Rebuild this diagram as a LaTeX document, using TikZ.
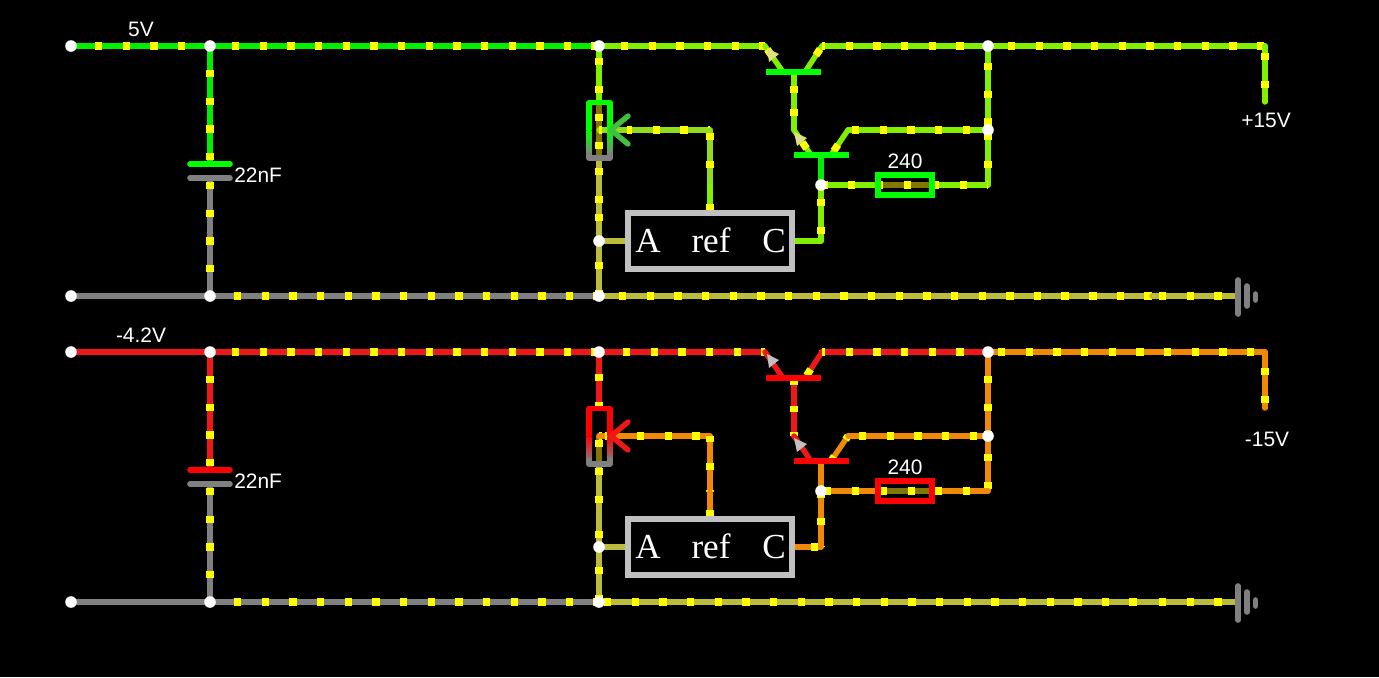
\documentclass[tikz,border=0pt]{standalone}
\usepackage{fontspec}
\setmainfont{Liberation Sans}
\newfontfamily\serifface{Liberation Serif}
\definecolor{wgreen}{HTML}{00EE00}
\definecolor{wlime}{HTML}{80F000}
\definecolor{wsoft}{HTML}{92DC20}
\definecolor{wolive}{HTML}{BCBC3C}
\definecolor{wgrey}{HTML}{808080}
\definecolor{wred}{HTML}{EE1818}
\definecolor{worange}{HTML}{F08808}
\definecolor{wdark}{HTML}{807800}
\definecolor{wdot}{HTML}{FFFF00}
\definecolor{warrow}{HTML}{40C040}
\definecolor{wtipa}{HTML}{E0E080}
\definecolor{wtipb}{HTML}{C0C0C0}
\definecolor{wbox}{HTML}{C0C0C0}
\tikzset{
    wire/.style={draw=#1, line width=3.1pt, line cap=round, line join=round},
    flow/.style={postaction={draw=wdot, line cap=butt, line width=4.2pt,
        dash pattern=on 4.2pt off 11.54pt, dash phase={(31.7-#1)*0.5669pt}}},
    bar/.style={draw=#1, line width=3.1pt},
    plate/.style={draw=#1, line width=3.2pt, line cap=round},
    post/.style={circle, fill=white, inner sep=0pt, minimum size=6.6pt},
    lab/.style={text=white, font=\fontsize{11.9}{14}\selectfont, inner sep=0pt},
    reglab/.style={text=white, font=\serifface\fontsize{20}{22}\selectfont, inner sep=0pt, anchor=base},
    gndbar/.style={draw=wgrey, line width=3.2pt, line cap=round},
}
\begin{document}
\begin{tikzpicture}[x=0.02cm, y=-0.02cm]
    \useasboundingbox (0, 0) rectangle (1379, 677);
    \fill[black] (0, 0) rectangle (1379, 677);

    % points of both rails
    \foreach \p/\dy in {t/0, b/306} {
        \coordinate (\p in) at (71, 46+\dy);
        \coordinate (\p cap) at (210, 46+\dy);
        \coordinate (\p capa) at (210, 164+\dy);
        \coordinate (\p capb) at (210, 178+\dy);
        \coordinate (\p gin) at (71, 296+\dy);
        \coordinate (\p gcap) at (210, 296+\dy);
        \coordinate (\p top) at (599, 46+\dy);
        \coordinate (\p pota) at (599, 101+\dy);
        \coordinate (\p wip) at (599, 130+\dy);
        \coordinate (\p potb) at (599, 158+\dy);
        \coordinate (\p ring) at (599, 213+\dy);
        \coordinate (\p anode) at (599, 241+\dy);
        \coordinate (\p gnod) at (599, 296+\dy);
        \coordinate (\p gmid) at (1152, 296+\dy);
        \coordinate (\p gend) at (1238, 296+\dy);
        \coordinate (\p tip) at (611, 130+\dy);
        \coordinate (\p rfa) at (627, 130+\dy);
        \coordinate (\p rfb) at (710, 130+\dy);
        \coordinate (\p rfc) at (710, 186+\dy);
        \coordinate (\p rfd) at (710, 213+\dy);
        \coordinate (\p boxa) at (627, 241+\dy);
        \coordinate (\p boxc) at (794, 241+\dy);
        \coordinate (\p cath) at (821, 241+\dy);
        \coordinate (\p emit) at (821, 185+\dy);
        \coordinate (\p basb) at (821, 155+\dy);
        \coordinate (\p ra) at (876, 185+\dy);
        \coordinate (\p rb) at (933, 185+\dy);
        \coordinate (\p rc) at (988, 185+\dy);
        \coordinate (\p ea) at (765, 46+\dy);
        \coordinate (\p eb) at (783, 72+\dy);
        \coordinate (\p cb) at (805, 72+\dy);
        \coordinate (\p ca) at (822, 46+\dy);
        \coordinate (\p basa) at (794, 72+\dy);
        \coordinate (\p basm) at (794, 100+\dy);
        \coordinate (\p eo) at (794, 130+\dy);
        \coordinate (\p ei) at (811, 155+\dy);
        \coordinate (\p ci) at (831, 155+\dy);
        \coordinate (\p co) at (848, 130+\dy);
        \coordinate (\p mida) at (988, 46+\dy);
        \coordinate (\p midb) at (988, 130+\dy);
        \coordinate (\p out) at (1265, 46+\dy);
        \coordinate (\p oute) at (1265, 102+\dy);
    }

    % 5V rail
    \draw[wire=wgreen, flow=28] (tin) -- (tcap);
    \draw[wire=wgreen, flow=26] (tcap) -- (ttop);
    \draw[wire=wgreen, flow=28] (tcap) -- (tcapa);
    \draw[wire=wgrey, flow=8] (tcapb) -- (tgcap);
    \draw[wire=wgrey] (tgin) -- (tgcap);
    \draw[wire=wgrey, flow=28] (tgcap) -- (tgnod);
    \draw[wire=wlime, flow=16] (ttop) -- (tpota);
    \draw[wire=wdark, line cap=butt, flow=17] (tpota) -- (tpotb);
    \draw[wire=wolive, flow=14] (tpotb) -- (tring);
    \draw[wire=wolive, flow=5] (tring) -- (tanode);
    \draw[wire=wolive, flow=25] (tanode) -- (tgnod);
    \draw[wire=wolive] (tanode) -- (tboxa);
    \draw[wire=wolive, flow=24] (tgnod) -- (tgmid);
    \draw[wire=wolive, flow=11] (tgmid) -- (tgend);
    \draw[wire=wsoft, flow=0] (twip) -- (ttip);
    \draw[wire=wsoft, flow=2] (ttip) -- (trfa);
    \draw[wire=wsoft, flow=2] (trfa) -- (trfb);
    \draw[wire=wsoft, flow=7] (trfb) -- (trfc);
    \draw[wire=wlime, flow=22] (trfc) -- (trfd);
    \draw[wire=wlime, flow=26] (ttop) -- (tea);
    \draw[wire=wlime, flow=8] (tea) -- (teb);
    \draw[wire=wlime, flow=24] (tcb) -- (tca);
    \draw[wire=wlime, flow=0] (tca) -- (tmida);
    \draw[wire=wlime, flow=24] (tmida) -- (tout);
    \draw[wire=wlime, flow=11] (tout) -- (toute);
    \draw[wire=wlime, flow=18] (tbasa) -- (tbasm);
    \draw[wire=wlime, flow=13] (tbasm) -- (teo);
    \draw[wire=wlime, flow=19] (teo) -- (tei);
    \draw[wire=wlime, flow=9] (tci) -- (tco);
    \draw[wire=wlime, flow=8] (tco) -- (tmidb);
    \draw[wire=wlime, flow=21] (tmida) -- (tmidb);
    \draw[wire=wlime, flow=7] (tmidb) -- (trc);
    \draw[bar=wgreen] (tbasb) -- (temit);
    \draw[wire=wlime, flow=31] (temit) -- (tra);
    \draw[wire=wdark, line cap=butt, flow=4] (tra) -- (trb);
    \draw[wire=wlime, flow=3] (trb) -- (trc);
    \draw[wire=wlime, flow=18] (temit) -- (tcath);
    \draw[wire=wlime] (tcath) -- (tboxc);

    % -4.2V rail
    \draw[wire=wred] (bin) -- (bcap);
    \draw[wire=wred, flow=26] (bcap) -- (btop);
    \draw[wire=wred, flow=28] (bcap) -- (bcapa);
    \draw[wire=wgrey, flow=8] (bcapb) -- (bgcap);
    \draw[wire=wgrey] (bgin) -- (bgcap);
    \draw[wire=wgrey, flow=28] (bgcap) -- (bgnod);
    \draw[wire=wred, flow=26] (btop) -- (bpota);
    \draw[wire=wdark, line cap=butt, flow=8] (bwip) -- (bpotb);
    \draw[wire=wolive, flow=8] (bpotb) -- (bring);
    \draw[wire=wolive, flow=16] (bring) -- (banode);
    \draw[wire=wolive, flow=24] (banode) -- (bgnod);
    \draw[wire=wolive] (banode) -- (bboxa);
    \draw[wire=wolive, flow=9] (bgnod) -- (bgmid);
    \draw[wire=wolive, flow=11] (bgmid) -- (bgend);
    \draw[wire=worange, flow=0] (bwip) -- (btip);
    \draw[wire=worange, flow=10] (bwip) -- (btip);
    \draw[wire=worange] (btip) -- (brfa);
    \draw[wire=worange, flow=14] (brfa) -- (brfb);
    \draw[wire=worange, flow=3] (brfb) -- (brfc);
    \draw[wire=worange, flow=22] (brfc) -- (brfd);
    \draw[wire=wred, flow=28] (btop) -- (bea);
    \draw[wire=wred] (bea) -- (beb);
    \draw[wire=wred, flow=7] (bcb) -- (bca);
    \draw[wire=wred, flow=0] (bca) -- (bmida);
    \draw[wire=worange, flow=14] (bmida) -- (bout);
    \draw[wire=worange, flow=20] (bout) -- (boute);
    \draw[wire=wred, flow=4] (bbasa) -- (bbasm);
    \draw[wire=wred, flow=30] (bbasm) -- (beo);
    \draw[wire=wred] (beo) -- (bei);
    \draw[wire=worange, flow=30] (bci) -- (bco);
    \draw[wire=worange, flow=15] (bco) -- (bmidb);
    \draw[wire=worange, flow=28] (bmida) -- (bmidb);
    \draw[wire=worange, flow=22] (bmidb) -- (brc);
    \draw[wire=worange] (bbasb) -- (bemit);
    \draw[wire=worange, flow=7] (bemit) -- (bra);
    \draw[wire=wdark, line cap=butt, flow=8] (bra) -- (brb);
    \draw[wire=worange, flow=6] (brb) -- (brc);
    \draw[wire=worange, flow=31] (bemit) -- (bcath);
    \draw[wire=worange, flow=7] (bcath) -- (bboxc);

    % parts drawn the same way on both rails
    \foreach \p/\dy/\hot/\fin/\tipc/\volt/\voy/\outv/\outx/\outy in {%
        t/0/green/warrow/wtipa/5V/29/+15V/1266/120,
        b/306/red/wred/wtipb/-4.2V/335/-15V/1267/439} {
        % capacitor
        \draw[plate=\hot] (190, 164+\dy) -- (230, 164+\dy);
        \draw[plate=wgrey] (190, 178+\dy) -- (230, 178+\dy);
        \node[lab, anchor=west] (\p capl) at (234, 175+\dy) {22nF};
        \node[lab] (\p volt) at (141, \voy) {\volt};
        \node[lab] (\p outl) at (\outx, \outy) {\outv};
        % pot
        \draw[\hot, line width=3pt, line join=round] (589, 130+\dy) -- (589, 102.5+\dy) -- (610, 102.5+\dy) -- (610, 130+\dy);
        \shade[top color=\hot, bottom color=wgrey] (586.4, 130+\dy) rectangle (591.6, 156+\dy);
        \shade[top color=\hot, bottom color=wgrey] (607.4, 130+\dy) rectangle (612.6, 156+\dy);
        \draw[wgrey, line width=3pt, line join=round] (589, 152+\dy) -- (589, 158+\dy) -- (610, 158+\dy) -- (610, 152+\dy);
        \draw[wire=\fin] (628, 116+\dy) -- (\p tip) -- (628, 144+\dy);
        % regulator
        \node[draw=wbox, line width=3.2pt, inner sep=0pt, minimum width=93.5pt, minimum height=32pt] (\p reg) at (\p rfc |- \p boxa) {};
        \node[reglab] (\p rega) at (648, 252+\dy) {A};
        \node[reglab] (\p regr) at (711, 252+\dy) {ref};
        \node[reglab] (\p regc) at (774, 252+\dy) {C};
        % transistors
        \draw[bar=\hot] (766, 72+\dy) -- (821, 72+\dy);
        \draw[bar=\hot] (794, 155+\dy) -- (849, 155+\dy);
        \fill[\tipc] (767, 48+\dy) -- (779, 54+\dy) -- (769, 62+\dy) -- cycle;
        \fill[\tipc] (794, 132+\dy) -- (807, 138+\dy) -- (797, 146+\dy) -- cycle;
        % resistor
        \node[draw=\hot, line width=3.2pt, inner sep=0pt, minimum width=31pt, minimum height=11.3pt] (\p res) at (905, 185+\dy) {};
        \node[lab] (\p resl) at (905, 161+\dy) {240};
        % ground
        \draw[gndbar] (1238, 280+\dy) -- (1238, 314+\dy);
        \draw[gndbar] (1247, 286+\dy) -- (1247, 306+\dy);
        \draw[gndbar] (1255.5, 294+\dy) -- (1255.5, 300+\dy);
        % posts
        \foreach \n in {in, cap, gin, gcap, top, anode, gnod, emit, mida, midb} {
            \node[post] (\p post\n) at (\p \n) {};
        }
    }
\end{tikzpicture}
\end{document}
